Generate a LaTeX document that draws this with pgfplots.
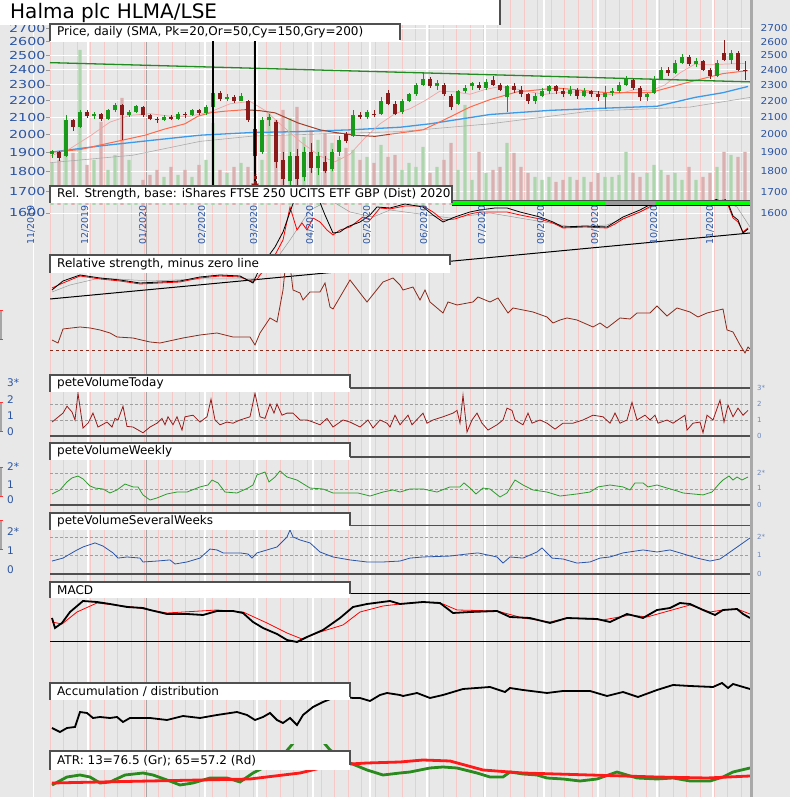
\documentclass[border=0pt]{standalone}
\usepackage{pgfplots}
\pgfplotsset{compat=1.18}
\usepackage{pgfplotstable}
\usepackage{fontspec}
\setmainfont{DejaVu Sans}
\newfontfamily\tickfont[FakeStretch=1.3]{DejaVu Sans}
\newfontfamily\rtickfont[FakeStretch=1.12]{DejaVu Sans}

\definecolor{bg}{HTML}{E8E8E8}
\definecolor{wk}{HTML}{F6C9C9}
\definecolor{tk}{HTML}{2B55A3}
\definecolor{up}{HTML}{1A9A1A}
\definecolor{dn}{HTML}{8B1A1A}
\definecolor{volup}{HTML}{AED6AE}
\definecolor{voldn}{HTML}{DBB0B0}
\definecolor{sma20}{HTML}{F2A3A3}
\definecolor{sma50}{HTML}{FF6A4D}
\definecolor{sma50d}{HTML}{A0402A}
\definecolor{sma150}{HTML}{3C9BE8}
\definecolor{sma200}{HTML}{ABABAB}
\definecolor{trend}{HTML}{228B22}
\definecolor{boxln}{HTML}{505050}
\definecolor{rsz}{HTML}{8B2A1A}
\definecolor{vtoday}{HTML}{9A1A1A}
\definecolor{vweek}{HTML}{2E9A2E}
\definecolor{vsev}{HTML}{2A55A8}
\definecolor{atrg}{HTML}{2A8A1E}
\definecolor{atrr}{HTML}{FF1A1A}
\definecolor{rb}{HTML}{A9A9A9}

% daily candles (x = position on time axis), open high low close volume
\pgfplotstableread{
x o h l c v
52 1890 1915 1870 1910 42
59 1900 1905 1855 1870 45
66 1880 2110 1875 2080 60
73 2080 2090 2020 2040 52
80 2040 2145 2035 2130 155
87 2130 2140 2095 2105 40
94 2105 2130 2090 2120 45
101 2120 2125 2075 2090 83
108 2090 2150 2085 2140 35
115 2140 2185 2130 2175 50
122 2170 2180 1970 2110 107
129 2110 2140 2100 2130 45
136 2130 2175 2125 2165 15
143 2160 2165 2100 2110 25
150 2110 2120 2080 2090 30
157 2090 2100 2065 2080 35
164 2080 2110 2075 2100 28
171 2100 2115 2080 2090 38
178 2090 2130 2085 2120 30
185 2120 2130 2095 2110 35
192 2110 2150 2105 2140 28
199 2140 2150 2110 2125 40
206 2125 2175 2115 2160 45
213 2160 2265 2155 2250 82
220 2250 2260 2200 2210 35
227 2210 2240 2195 2225 32
234 2225 2235 2185 2200 38
241 2200 2245 2195 2230 42
248 2200 2205 2070 2080 38
255 2030 2040 1800 1880 50
262 1900 2100 1890 2080 45
269 2080 2120 2050 2100 92
276 2070 2080 1820 1850 85
283 1860 1900 1700 1760 95
290 1750 1900 1710 1880 87
297 1880 1920 1700 1760 98
304 1770 1930 1750 1900 68
311 1900 1950 1790 1820 75
318 1820 1900 1780 1880 65
325 1850 1880 1790 1800 72
332 1810 1920 1800 1900 62
339 1900 1990 1880 1970 48
346 2000 2010 1950 1960 57
353 1990 2140 1985 2110 55
360 2110 2130 2090 2100 45
367 2100 2140 2090 2130 48
374 2120 2140 2100 2110 42
381 2120 2220 2110 2200 60
388 2250 2270 2170 2180 48
395 2180 2200 2110 2120 50
402 2130 2210 2120 2200 35
409 2200 2250 2190 2240 42
416 2240 2310 2230 2300 38
423 2300 2380 2290 2340 58
430 2340 2350 2280 2290 32
437 2290 2330 2270 2310 38
444 2300 2310 2230 2240 45
451 2230 2240 2140 2160 62
458 2180 2270 2170 2260 35
465 2260 2300 2250 2280 100
472 2290 2320 2270 2310 25
479 2300 2320 2270 2280 53
486 2280 2340 2270 2320 32
493 2330 2360 2290 2300 35
500 2300 2310 2260 2270 38
507 2220 2300 2130 2290 62
514 2290 2310 2250 2270 52
521 2270 2290 2220 2240 38
528 2240 2250 2180 2200 32
535 2200 2250 2180 2230 28
542 2230 2280 2220 2260 25
549 2260 2300 2240 2290 28
556 2290 2300 2240 2260 23
563 2260 2280 2220 2240 25
570 2240 2290 2230 2270 28
577 2270 2280 2210 2230 25
584 2230 2280 2220 2260 28
591 2260 2270 2220 2240 23
598 2240 2260 2200 2220 32
605 2220 2290 2150 2250 28
612 2250 2280 2230 2260 28
619 2260 2320 2250 2300 30
626 2300 2360 2290 2340 53
633 2330 2340 2270 2280 32
640 2280 2290 2200 2220 28
647 2220 2250 2195 2240 32
654 2250 2360 2240 2340 40
661 2340 2420 2330 2400 35
668 2400 2420 2360 2380 30
675 2380 2470 2370 2450 32
682 2450 2510 2440 2490 25
689 2490 2500 2430 2440 38
696 2440 2480 2420 2460 25
703 2460 2470 2390 2400 28
710 2400 2410 2340 2360 32
717 2360 2470 2350 2450 38
724 2520 2610 2460 2470 53
731 2470 2540 2440 2520 50
738 2520 2530 2390 2400 48
745 2400 2460 2330 2390 53
}\candles

\pgfplotsset{
  panel/.style={scale only axis, width=700pt, xmin=50, xmax=750, anchor=south west,
    axis line style={draw=none}, tick style={draw=none}, xtick=\empty, ytick=\empty},
  pricey/.style={
    ytick={1600,1700,1800,1900,2000,2100,2200,2300,2400,2500,2600,2700},
    yticklabels={1600,1700,1800,1900,2000,2100,2200,2300,2400,2500,2600,2700}},
  upf/.style={restrict expr to domain={\thisrow{c}-\thisrow{o}}{0:100000}},
  dnf/.style={restrict expr to domain={\thisrow{c}-\thisrow{o}}{-100000:-0.001}},
}

\newcommand{\tbox}[5]{%
  \fill[white] (50,#3) rectangle (#1,#2);
  \draw[boxln, line width=1.3pt] (50,#3)--(50,#2)--(#1,#2)--(#1,#4);
  \begin{scope}\clip (50,#3) rectangle (#1,#2);
  \node[anchor=west, inner sep=0, font=\fontsize{12}{13}\selectfont] at (57,{(#2+#3)/2}) {#5};
  \end{scope}}
\newcommand{\mlab}[2]{\node[rotate=90, anchor=west, inner sep=0, text=tk, font=\fontsize{9.5}{10}\selectfont] at (#1,552) {#2};}
\newcommand{\vl}[2]{\node[anchor=west, inner sep=0, text=tk, font=\fontsize{10.5}{11}\selectfont] at (7,#1) {#2};}
\newcommand{\vr}[2]{\node[anchor=west, inner sep=0, text=tk!70, font=\fontsize{7}{8}\selectfont] at (757,#1) {#2};}
\newcommand{\edgemark}[2]{\fill[gray!70] (0,#1) rectangle (2,#2); \fill[red!80] (0,#1) rectangle (3,#1+1.2); \fill[red!80] (0,#2) rectangle (3,#2-1.2);}

\begin{document}
\begin{tikzpicture}
\useasboundingbox (0pt,0pt) rectangle (790pt,797pt);
\begin{scope}[x=1pt,y=1pt]
  \fill[bg] (0,0) rectangle (790,797);
  \draw[white, line width=1pt] (33,0)--(33,797);
  \edgemark{457}{487}\edgemark{365}{395}\edgemark{300}{330}\edgemark{247}{277}
  \foreach \i in {0,...,51}{\pgfmathsetmacro\xx{50+13.55*\i}\draw[wk, line width=0.9pt] (\xx,0)--(\xx,797);}
  \foreach \xx in {88,205,257,313,370,427,485,544,598,657,713}{\draw[white, line width=1.3pt] (\xx,0)--(\xx,797);}
  \draw[gray!70, line width=0.8pt] (146,0)--(146,797);
\end{scope}

% price grid, left ticks and labels
\begin{axis}[panel, ymode=log, ymin=1591, ymax=2765, pricey, at={(50pt,582pt)}, height=195pt, ymajorgrids,
  major grid style={white, line width=0.9pt}, yticklabel pos=left, ytick pos=left,
  tick style={draw=gray!80, line width=0.8pt}, tick align=outside, major tick length=4pt,
  yticklabel style={font=\tickfont\fontsize{11}{12}\selectfont, text=tk, xshift=3pt}]
\addplot[draw=none] coordinates {(400,2000)};
\end{axis}

% volume
\begin{axis}[panel, at={(50pt,592pt)}, height=185pt, ymin=0, ymax=185]
\addplot[ybar, bar width=3.4pt, bar shift=0pt, draw=none, fill=volup, upf] table[x=x, y=v] {\candles};
\addplot[ybar, bar width=3.4pt, bar shift=0pt, draw=none, fill=voldn, dnf] table[x=x, y=v] {\candles};
\end{axis}

% price, moving averages, candles
\begin{axis}[panel, ymode=log, ymin=1591, ymax=2765, pricey, at={(50pt,582pt)}, height=195pt, clip=false,
  yticklabel pos=right, yticklabel style={font=\rtickfont\fontsize{9.5}{11}\selectfont, text=tk, xshift=7pt}]
\addplot[sma200, line width=0.6pt] coordinates {(50,1845)(133,1885)(200,1960)(253,1990)(400,2015)(490,2060)(590,2135)(690,2160)(750,2220)};
\addplot[sma150, line width=1.3pt] coordinates {(50,1900)(100,1935)(150,1965)(200,1995)(253,2010)(300,2015)(350,2025)(400,2040)(430,2060)(490,2115)(550,2140)(590,2150)(657,2165)(695,2220)(723,2250)(748,2290)};
\addplot[sma20, line width=0.7pt] coordinates {(50,1880)(70,1920)(90,1990)(110,2070)(130,2110)(150,2120)(170,2105)(190,2105)(210,2130)(230,2180)(250,2195)(265,2140)(280,2060)(300,1960)(320,1880)(335,1850)(350,1890)(365,1980)(380,2060)(395,2120)(410,2150)(425,2200)(440,2260)(455,2255)(470,2240)(485,2270)(500,2290)(515,2275)(530,2255)(545,2240)(560,2250)(575,2255)(590,2250)(605,2235)(620,2245)(635,2270)(650,2260)(665,2300)(680,2380)(695,2440)(710,2435)(725,2440)(745,2445)};
\addplot[sma50, line width=1pt] coordinates {(50,1900)(80,1915)(100,1940)(125,1970)(145,1995)(165,2030)(185,2060)(198,2105)(210,2125)(225,2135)(245,2144)};
\addplot[sma50d, line width=1pt] coordinates {(245,2144)(260,2138)(275,2125)(298,2065)(320,2025)(335,2010)(355,1995)(375,1988)(390,2000)};
\addplot[sma50, line width=1pt] coordinates {(390,2000)(423,2025)(443,2080)(470,2160)(490,2206)(517,2255)(557,2280)(607,2250)(650,2250)(690,2320)(723,2375)(748,2395)};
\addplot[trend, line width=1.3pt] coordinates {(50,2450)(750,2320)};
% wicks
\addplot[draw=none, upf, error bars/.cd, y dir=plus, y explicit, error mark=none,
  error bar style={draw=up, line width=1pt}] table[x=x, y=l, y error expr=\thisrow{h}-\thisrow{l}] {\candles};
\addplot[draw=none, dnf, error bars/.cd, y dir=plus, y explicit, error mark=none,
  error bar style={draw=dn, line width=1pt}] table[x=x, y=l, y error expr=\thisrow{h}-\thisrow{l}] {\candles};
% bodies
\addplot[draw=none, upf, error bars/.cd, y dir=plus, y explicit, error mark=none,
  error bar style={draw=up, line width=3.6pt}] table[x=x, y=o, y error expr=\thisrow{c}-\thisrow{o}] {\candles};
\addplot[draw=none, dnf, error bars/.cd, y dir=plus, y explicit, error mark=none,
  error bar style={draw=dn, line width=3.6pt}] table[x=x, y=c, y error expr=\thisrow{o}-\thisrow{c}] {\candles};
% signal markers
\addplot[black, line width=1.3pt] coordinates {(213,1723)(213,2672)};
\addplot[black, line width=1.3pt] coordinates {(255,1723)(255,2844)};
\addplot[up, line width=2pt] coordinates {(213,2672)(213,2725)};
\addplot[only marks, mark=triangle*, mark size=4.5pt, color=up] coordinates {(213,2740)};
\addplot[dn, line width=2.5pt] coordinates {(255,2815)(255,2870)};
\addplot[only marks, mark=triangle*, mark size=5pt, color=dn, mark options={rotate=180}] coordinates {(255,2790)};
\addplot[dn, line width=3pt, dotted] coordinates {(255,1735)(255,1785)};
\addplot[only marks, mark=triangle*, mark size=4pt, color=dn, mark options={rotate=180}] coordinates {(255,1728)};
\end{axis}

% relative strength
\begin{axis}[panel, at={(50pt,497pt)}, height=100pt, ymin=0, ymax=100]
\addplot[black, line width=1pt] coordinates {(50,1)(750,67)};
\addplot[gray!80, line width=0.5pt] coordinates {(52,8)(70,15)(100,22)(150,19)(200,21)(253,21)(270,32)(290,60)(310,90)(330,100)(350,88)(373,83)(390,90)(450,82)(490,87)(573,73)(607,75)(657,95)(723,100)(737,93)(750,73)};
\addplot[red, line width=0.8pt] coordinates {(52,12)(63,17)(80,24)(100,21)(120,19)(140,16)(160,17)(180,18)(200,22)(220,24)(240,23)(253,18)(258,22)(267,35)(275,45)(283,60)(290,93)(297,70)(302,77)(307,70)(313,82)(320,78)(327,70)(333,65)(340,70)(350,73)(363,83)(370,80)(380,92)(390,91)(405,94)(423,94)(433,88)(443,80)(455,81)(470,86)(480,88)(495,88)(507,88)(520,85)(540,81)(553,77)(563,72)(585,73)(607,72)(615,76)(623,81)(640,88)(653,95)(670,96)(690,96)(707,96)(715,97)(723,100)(728,95)(733,82)(738,78)(743,68)(748,72)};
\addplot[black, line width=0.8pt] coordinates {(52,10)(63,19)(80,25)(100,22)(120,20)(140,17)(160,18)(180,19)(200,23)(220,25)(240,24)(253,17)(258,28)(267,42)(275,53)(283,68)(290,88)(295,102)(305,120)(315,110)(325,85)(333,67)(340,68)(347,73)(360,78)(370,85)(377,93)(390,92)(405,96)(423,93)(433,85)(443,78)(455,83)(470,88)(480,90)(495,92)(507,92)(520,88)(540,83)(553,78)(563,73)(585,74)(607,73)(615,78)(623,83)(640,90)(653,97)(670,97)(690,98)(707,97)(715,100)(723,103)(728,97)(733,84)(738,80)(743,67)(748,71)};
\end{axis}

% relative strength minus zero line
\begin{axis}[panel, at={(50pt,432pt)}, height=110pt, ymin=-15, ymax=95]
\addplot[rsz, line width=0.7pt, dashed] coordinates {(50,0)(750,0)};
\addplot[rsz, line width=0.8pt] coordinates {(52,10)(58,7)(63,21)(80,23)(90,22)(100,20)(110,17)(117,13)(133,12)(150,8)(160,7)(183,12)(200,15)(217,17)(233,13)(250,13)(255,5)(260,17)(270,32)(277,28)(283,60)(287,100)(290,85)(293,60)(300,57)(303,50)(310,58)(320,58)(325,67)(330,43)(333,41)(350,70)(367,48)(383,68)(393,72)(400,65)(403,60)(413,63)(420,50)(425,60)(430,48)(443,37)(448,48)(457,45)(473,48)(478,53)(490,48)(498,52)(508,37)(513,42)(533,38)(547,33)(553,27)(560,30)(567,32)(577,30)(593,23)(600,27)(607,22)(620,32)(630,31)(637,37)(650,37)(657,44)(667,34)(677,42)(690,38)(698,33)(707,37)(723,41)(727,20)(733,18)(740,5)(745,-3)(748,3)(750,1)};
\end{axis}

% peteVolumeToday
\begin{axis}[panel, at={(50pt,357pt)}, height=60pt, ymin=-0.25, ymax=3.5]
\addplot[gray!75, line width=0.7pt, dash pattern=on 3pt off 2pt] coordinates {(50,1)(750,1)};
\addplot[gray!75, line width=0.7pt, dash pattern=on 3pt off 2pt] coordinates {(50,2)(750,2)};
\addplot[boxln, line width=1.2pt] coordinates {(50,3)(750,3)};
\addplot[boxln, line width=1.8pt] coordinates {(50,0)(750,0)};
\addplot[vtoday, line width=0.8pt] coordinates {(52,0.87)(63,1.43)(67,1.86)(72,1.5)(75,1.0)(78,2.67)(83,0.5)(88,0.8)(93,1.43)(98,0.56)(107,0.87)(112,0.56)(115,1.1)(118,1.0)(123,1.86)(127,0.6)(133,0.56)(143,0.2)(150,0.56)(157,0.8)(162,1.1)(165,0.7)(168,1.2)(173,0.7)(177,1.2)(182,0.37)(185,1.2)(193,1.3)(200,0.87)(207,1.2)(211,2.3)(215,1.0)(220,0.7)(227,0.87)(233,0.8)(240,1.0)(250,1.2)(255,2.67)(260,1.2)(265,1.1)(270,2.0)(274,1.43)(277,2.0)(282,1.3)(287,1.43)(293,1.43)(300,1.0)(307,1.0)(313,0.87)(320,0.7)(327,1.1)(333,0.56)(343,1.0)(350,0.87)(360,0.56)(368,1.0)(373,0.5)(380,1.0)(387,0.8)(390,0.56)(395,1.3)(400,0.7)(408,1.3)(412,0.7)(423,1.43)(427,0.8)(433,1.0)(443,1.2)(453,1.43)(457,1.6)(460,0.8)(463,2.55)(467,0.25)(472,1.0)(477,1.43)(482,0.8)(488,0.37)(497,0.7)(503,1.0)(507,1.74)(512,1.6)(515,1.0)(523,0.7)(528,1.43)(532,0.8)(540,1.0)(547,0.8)(555,0.43)(563,0.8)(573,0.8)(583,1.0)(593,1.3)(603,1.2)(610,0.8)(615,1.43)(620,0.8)(627,1.0)(632,2.1)(637,1.0)(645,1.3)(650,1.0)(655,1.3)(658,0.8)(667,1.0)(673,0.8)(685,1.3)(687,0.37)(693,0.8)(700,0.87)(703,0.2)(707,1.3)(713,1.0)(720,2.24)(724,0.87)(728,1.93)(733,1.2)(738,1.74)(743,1.3)(748,1.6)};
\end{axis}

% peteVolumeWeekly
\begin{axis}[panel, at={(50pt,287pt)}, height=60pt, ymin=-0.3125, ymax=3.4375]
\addplot[gray!75, line width=0.7pt, dash pattern=on 3pt off 2pt] coordinates {(50,1)(750,1)};
\addplot[gray!75, line width=0.7pt, dash pattern=on 3pt off 2pt] coordinates {(50,2)(750,2)};
\addplot[boxln, line width=1.2pt] coordinates {(50,3)(750,3)};
\addplot[boxln, line width=1.8pt] coordinates {(50,0)(750,0)};
\addplot[vweek, line width=0.8pt] coordinates {(52,0.69)(60,0.94)(67,1.44)(72,1.69)(78,1.81)(83,1.63)(90,1.19)(95,1.06)(103,1.0)(110,0.75)(117,0.94)(125,1.31)(133,1.13)(138,1.13)(143,0.63)(150,0.31)(157,0.44)(167,0.69)(177,0.81)(187,0.81)(200,1.13)(208,1.25)(212,1.56)(218,1.38)(225,0.81)(237,0.75)(248,1.06)(253,1.25)(257,1.88)(265,2.06)(269,1.44)(275,1.75)(280,2.13)(287,1.75)(297,1.56)(310,1.06)(323,1.0)(333,0.75)(347,0.75)(358,0.75)(370,0.56)(383,0.81)(393,0.94)(400,0.81)(410,1.0)(423,1.0)(437,0.81)(450,1.13)(460,1.13)(464,1.38)(470,1.06)(476,0.69)(483,1.06)(490,1.0)(500,0.5)(507,0.75)(515,1.56)(523,1.25)(533,0.94)(547,0.81)(560,0.56)(577,0.69)(590,0.81)(598,1.13)(610,1.25)(623,1.13)(630,0.94)(635,1.38)(643,1.38)(648,1.13)(657,1.25)(667,1.06)(677,0.88)(683,0.75)(693,0.69)(703,0.63)(712,0.81)(720,1.38)(723,1.56)(729,1.81)(733,1.56)(737,1.75)(742,1.56)(748,1.75)};
\end{axis}

% peteVolumeSeveralWeeks
\begin{axis}[panel, at={(50pt,217pt)}, height=60pt, ymin=-0.3243, ymax=2.9189]
\addplot[gray!75, line width=0.7pt, dash pattern=on 3pt off 2pt] coordinates {(50,1)(750,1)};
\addplot[gray!75, line width=0.7pt, dash pattern=on 3pt off 2pt] coordinates {(50,2)(750,2)};
\addplot[boxln, line width=1.2pt] coordinates {(50,2.6)(750,2.6)};
\addplot[boxln, line width=1.8pt] coordinates {(50,0)(750,0)};
\addplot[vsev, line width=0.8pt] coordinates {(52,0.70)(63,0.86)(77,1.3)(83,1.46)(95,1.68)(103,1.51)(113,1.14)(118,0.86)(127,0.92)(140,0.86)(143,0.65)(157,0.70)(170,0.76)(175,0.54)(187,0.65)(200,0.86)(210,1.35)(217,1.3)(223,1.14)(240,1.14)(248,1.08)(252,0.86)(257,1.14)(267,1.3)(277,1.46)(287,2.0)(290,2.38)(293,2.0)(300,1.84)(310,1.68)(320,1.19)(333,0.92)(350,0.76)(367,0.65)(383,0.65)(400,0.70)(410,0.86)(423,0.92)(450,0.97)(467,1.08)(478,1.14)(497,0.92)(503,0.59)(510,0.92)(523,0.86)(537,1.19)(542,1.41)(552,0.86)(563,0.81)(577,0.59)(590,0.65)(600,0.86)(610,0.92)(623,1.14)(643,1.3)(657,1.19)(670,1.3)(680,1.14)(697,0.86)(710,0.70)(720,0.81)(733,1.3)(743,1.68)(750,1.95)};
\end{axis}

% MACD
\begin{axis}[panel, at={(50pt,147pt)}, height=58pt, ymin=-8, ymax=50]
\addplot[black, line width=1pt] coordinates {(50,48)(750,48)};
\addplot[black, line width=1pt] coordinates {(50,0)(750,0)};
\addplot[red, line width=0.8pt] coordinates {(52,20)(62,18)(77,30)(97,39)(133,35)(167,29)(217,32)(243,30)(267,19)(287,9)(302,3)(320,10)(343,17)(360,30)(383,36)(400,38)(423,40)(443,38)(457,32)(497,31)(523,24)(550,20)(567,24)(603,22)(630,27)(647,25)(690,37)(710,30)(723,32)(737,33)(750,28)};
\addplot[black, line width=1.8pt] coordinates {(52,24)(55,14)(62,19)(70,30)(83,41)(97,40)(110,38)(127,35)(143,34)(150,32)(167,28)(187,28)(203,27)(217,31)(233,31)(243,29)(253,20)(263,14)(277,8)(287,2)(297,0)(307,5)(323,12)(340,24)(353,35)(367,38)(390,41)(400,38)(423,40)(440,39)(453,29)(470,30)(497,31)(510,25)(530,24)(550,19)(567,24)(597,23)(610,20)(627,28)(643,24)(657,32)(670,34)(680,39)(690,38)(703,32)(715,27)(723,32)(737,33)(743,28)(750,24)};
\end{axis}

% accumulation / distribution
\begin{axis}[panel, at={(50pt,57pt)}, height=60pt, ymin=0, ymax=60]
\addplot[black, line width=1.8pt] coordinates {(52,12)(60,8)(67,12)(75,13)(80,28)(87,27)(93,22)(100,23)(110,22)(117,23)(123,18)(130,22)(150,22)(167,20)(183,24)(200,22)(217,25)(237,28)(247,25)(255,20)(263,23)(270,27)(277,20)(283,17)(290,22)(297,15)(303,25)(313,33)(323,38)(333,42)(340,44)(353,42)(360,42)(370,39)(380,45)(387,47)(400,45)(403,44)(417,47)(430,42)(443,45)(463,51)(490,53)(505,48)(510,52)(523,50)(547,47)(563,49)(590,49)(607,44)(623,48)(638,43)(657,50)(673,55)(690,54)(713,53)(722,57)(728,52)(733,56)(750,51)};
\end{axis}

% ATR
\begin{axis}[panel, at={(50pt,0pt)}, height=52pt, ymin=0, ymax=52]
\addplot[atrg, line width=2.8pt] coordinates {(52,12)(67,20)(80,22)(90,20)(100,14)(110,15)(125,22)(143,24)(153,22)(167,17)(180,12)(193,14)(210,19)(227,19)(240,15)(253,24)(263,29)(277,35)(290,50)(300,62)(310,65)(320,59)(330,47)(350,34)(367,27)(383,22)(400,24)(410,25)(430,29)(443,30)(457,29)(477,24)(490,20)(503,20)(510,25)(523,23)(537,22)(547,19)(563,18)(580,16)(597,18)(617,25)(637,19)(657,18)(673,19)(690,16)(710,16)(723,20)(733,25)(750,29)};
\addplot[atrr, line width=2.8pt] coordinates {(52,14)(100,15)(200,17)(250,18)(300,24)(333,32)(367,34)(400,35)(423,37)(450,36)(483,27)(523,24)(590,22)(657,20)(707,19)(750,21)};
\end{axis}

\begin{scope}[x=1pt,y=1pt]
  % indicator band
  \fill[green] (452,592) rectangle (750,597);
  \fill[gray!80] (605,592) rectangle (655,597);
  \draw[gray!60!black, line width=0.6pt] (452,597)--(750,597);
  \draw[black, line width=0.9pt] (452,592)--(750,592);
  % title boxes
  \fill[white] (0,772) rectangle (500,797);
  \draw[boxln, line width=1.5pt] (500,772)--(500,797);
  \node[anchor=west, inner sep=0, font=\fontsize{20}{22}\selectfont] at (10,784) {Halma plc HLMA/LSE};
  \tbox{400}{773}{756}{757}{Price, daily (SMA, Pk=20,Or=50,Cy=150,Gry=200)}
  \tbox{452}{611}{594}{594}{Rel. Strength, base: iShares FTSE 250 UCITS ETF GBP (Dist) 2020}
  \tbox{450}{542}{524}{532}{Relative strength, minus zero line}
  \tbox{350}{422}{405}{409}{peteVolumeToday}
  \tbox{350}{354}{337}{340}{peteVolumeWeekly}
  \tbox{350}{284}{267}{271}{peteVolumeSeveralWeeks}
  \tbox{350}{215}{199}{203}{MACD}
  \tbox{350}{114}{97}{100}{Accumulation / distribution}
  \tbox{350}{46}{27}{32}{ATR: 13=76.5 (Gr); 65=57.2 (Rd)}
  % month labels
  \mlab{31}{11/2019}\mlab{85}{12/2019}\mlab{143}{01/2020}\mlab{202}{02/2020}
  \mlab{254}{03/2020}\mlab{310}{04/2020}\mlab{367}{05/2020}\mlab{424}{06/2020}
  \mlab{482}{07/2020}\mlab{541}{08/2020}\mlab{595}{09/2020}\mlab{654}{10/2020}\mlab{710}{11/2020}
  % indicator scale labels
  \vl{414}{3*}\vl{397}{2}\vl{381}{1}\vl{365}{0}
  \vl{330}{2*}\vl{312}{1}\vl{297}{0}
  \vl{265}{2*}\vl{246}{1}\vl{227}{0}
  \vr{409}{3*}\vr{393}{2}\vr{377}{1}\vr{361}{0}
  \vr{324}{2*}\vr{309}{1}\vr{292}{0}
  \vr{260}{2*}\vr{242}{1}\vr{223}{0}
  % right frame
  \fill[rb] (750,0) rectangle (753,797);
\end{scope}
\end{tikzpicture}
\end{document}
